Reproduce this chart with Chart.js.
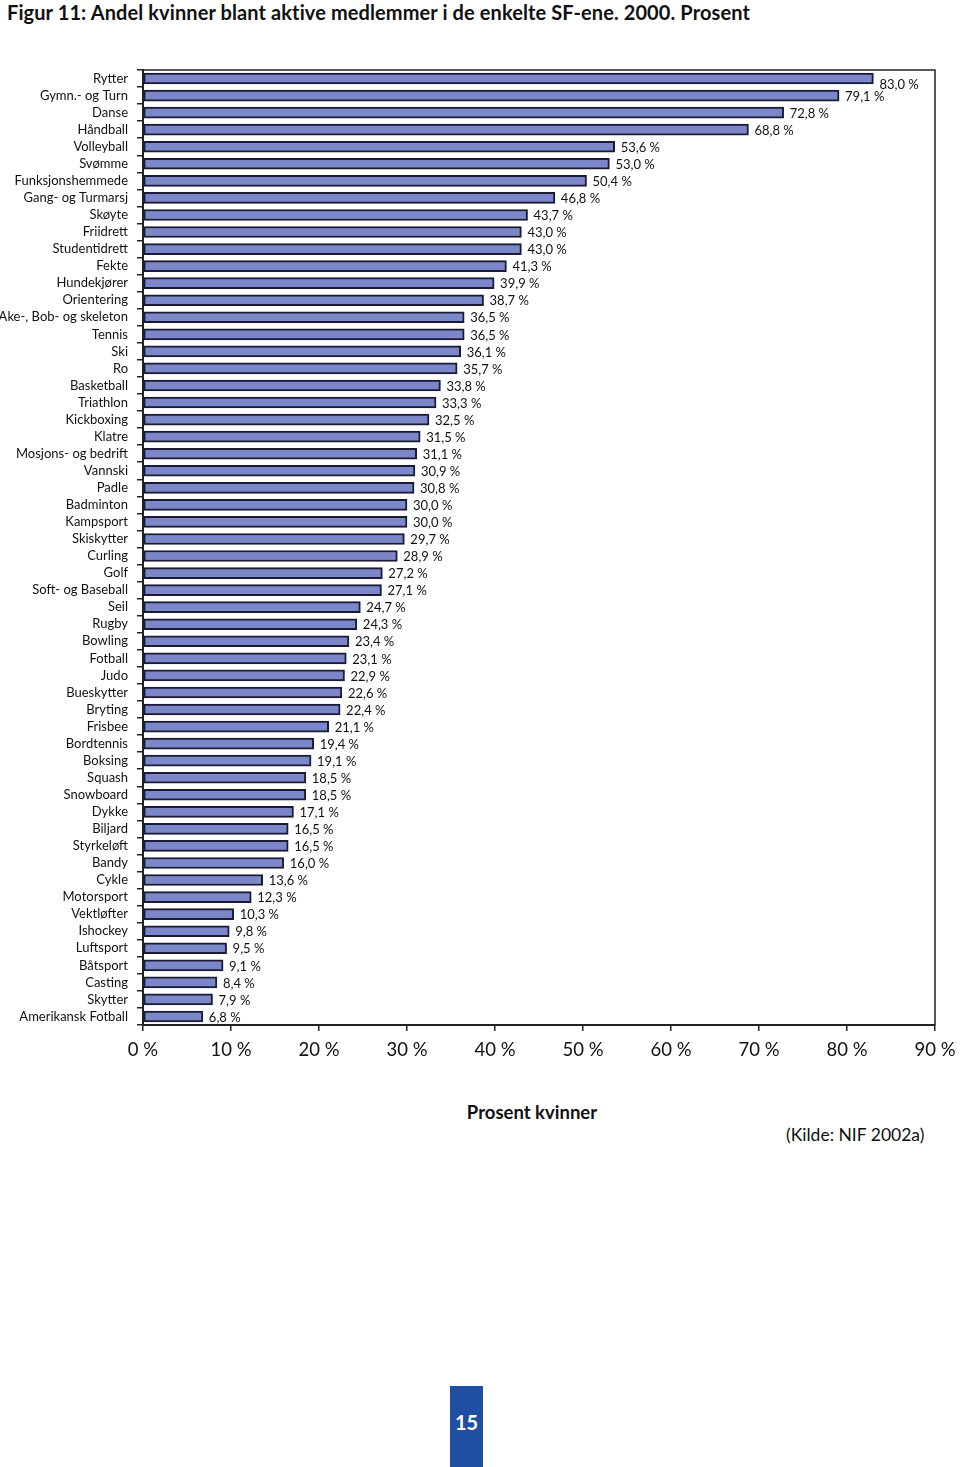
<!DOCTYPE html>
<html lang="no">
<head>
<meta charset="UTF-8">
<title>Figur 11</title>
<style>
  body { margin: 0; background: #fff; font-family: Lato, "Open Sans", sans-serif; }
  .page { position: relative; width: 960px; height: 1467px; overflow: hidden; }
  .title { position: absolute; left: 7px; top: 0; font-size: 20px; font-weight: bold; line-height: 24px; color: #111; letter-spacing: 0.1px; }
  #chartWrap { position: absolute; left: 0; top: 0; width: 960px; height: 1080px; }
  .xtitle { position: absolute; left: 432px; width: 200px; text-align: center; top: 1101px; font-size: 18.5px; font-weight: bold; color: #111; }
  .kilde { position: absolute; left: 786px; top: 1124px; font-size: 17.5px; color: #111; }
  .pagenum { position: absolute; left: 450px; top: 1386px; width: 33px; height: 81px; background: #1f4fa3; color: #fff; font-weight: bold; font-size: 20px; text-align: center; line-height: 72px; }
</style>
</head>
<body>
<div class="page">
  <div class="title">Figur 11: Andel kvinner blant aktive medlemmer i de enkelte SF-ene. 2000. Prosent</div>
  <div id="chartWrap"><canvas id="barChart" width="960" height="1080"></canvas></div>
  <div class="xtitle">Prosent kvinner</div>
  <div class="kilde">(Kilde: NIF 2002a)</div>
  <div class="pagenum">15</div>
</div>

<script src="https://cdn.jsdelivr.net/npm/chart.js"></script>
<script>
  // særforbund, sortert fra høyest til lavest andel
  const sports = [
    'Rytter', 'Gymn.- og Turn', 'Danse', 'Håndball', 'Volleyball', 'Svømme',
    'Funksjonshemmede', 'Gang- og Turmarsj', 'Skøyte', 'Friidrett', 'Studentidrett',
    'Fekte', 'Hundekjører', 'Orientering', 'Ake-, Bob- og skeleton', 'Tennis', 'Ski',
    'Ro', 'Basketball', 'Triathlon', 'Kickboxing', 'Klatre', 'Mosjons- og bedrift',
    'Vannski', 'Padle', 'Badminton', 'Kampsport', 'Skiskytter', 'Curling', 'Golf',
    'Soft- og Baseball', 'Seil', 'Rugby', 'Bowling', 'Fotball', 'Judo', 'Bueskytter',
    'Bryting', 'Frisbee', 'Bordtennis', 'Boksing', 'Squash', 'Snowboard', 'Dykke',
    'Biljard', 'Styrkeløft', 'Bandy', 'Cykle', 'Motorsport', 'Vektløfter', 'Ishockey',
    'Luftsport', 'Båtsport', 'Casting', 'Skytter', 'Amerikansk Fotball'
  ];

  const womenShare = [
    83.0, 79.1, 72.8, 68.8, 53.6, 53.0,
    50.4, 46.8, 43.7, 43.0, 43.0,
    41.3, 39.9, 38.7, 36.5, 36.5, 36.1,
    35.7, 33.8, 33.3, 32.5, 31.5, 31.1,
    30.9, 30.8, 30.0, 30.0, 29.7, 28.9, 27.2,
    27.1, 24.7, 24.3, 23.4, 23.1, 22.9, 22.6,
    22.4, 21.1, 19.4, 19.1, 18.5, 18.5, 17.1,
    16.5, 16.5, 16.0, 13.6, 12.3, 10.3, 9.8,
    9.5, 9.1, 8.4, 7.9, 6.8
  ];

  const xMin = 0, xMax = 90, xStep = 10;

  const fmt = v => v.toFixed(1).replace('.', ',') + ' %';

  // verdietiketter til høyre for søylene
  const valueLabels = {
    id: 'valueLabels',
    afterDatasetsDraw(chart) {
      const ctx = chart.ctx;
      const meta = chart.getDatasetMeta(0);
      ctx.save();
      ctx.font = '13px Lato, sans-serif';
      ctx.fillStyle = '#111';
      ctx.textBaseline = 'middle';
      ctx.textAlign = 'left';
      meta.data.forEach((bar, i) => {
        const dy = i === 0 ? 6 : 1;
        ctx.fillText(fmt(womenShare[i]), bar.x + 6, bar.y + dy);
      });
      ctx.restore();
    }
  };

  // ramme øverst og til høyre
  const frame = {
    id: 'frame',
    afterDraw(chart) {
      const { ctx, chartArea: a } = chart;
      ctx.save();
      ctx.strokeStyle = '#222';
      ctx.lineWidth = 1.5;
      ctx.beginPath();
      ctx.moveTo(a.left, a.top);
      ctx.lineTo(a.right, a.top);
      ctx.lineTo(a.right, a.bottom);
      ctx.stroke();
      ctx.restore();
    }
  };

  new Chart(document.getElementById('barChart'), {
    type: 'bar',
    data: {
      labels: sports,
      datasets: [{
        data: womenShare,
        backgroundColor: '#7c87c9',
        borderColor: '#1b1b35',
        borderWidth: 2,
        borderSkipped: false,
        barThickness: 11
      }]
    },
    options: {
      indexAxis: 'y',
      responsive: false,
      animation: false,
      layout: { padding: { left: 0, top: 70, right: 25, bottom: 15 } },
      plugins: { legend: { display: false }, tooltip: { enabled: false } },
      scales: {
        x: {
          min: xMin, max: xMax,
          ticks: {
            stepSize: xStep,
            color: '#111',
            padding: 8,
            font: { family: 'Lato', size: 18.5 },
            callback: v => v + ' %'
          },
          grid: { drawOnChartArea: false, drawTicks: true, tickLength: 6, color: '#222', lineWidth: 1.5 },
          border: { display: true, color: '#222', width: 2 },
          afterFit(axis) {
            axis.height = 40;
            axis.paddingLeft = 0;
            axis.paddingRight = 0;
          }
        },
        y: {
          ticks: {
            color: '#111',
            padding: 9,
            autoSkip: false,
            font: { family: 'Lato', size: 13 }
          },
          grid: { drawOnChartArea: false, drawTicks: true, tickLength: 6, color: '#222', lineWidth: 1.5, offset: true },
          border: { display: true, color: '#222', width: 2 },
          afterFit(axis) { axis.width = 143; }
        }
      }
    },
    plugins: [valueLabels, frame]
  });
</script>
</body>
</html>
